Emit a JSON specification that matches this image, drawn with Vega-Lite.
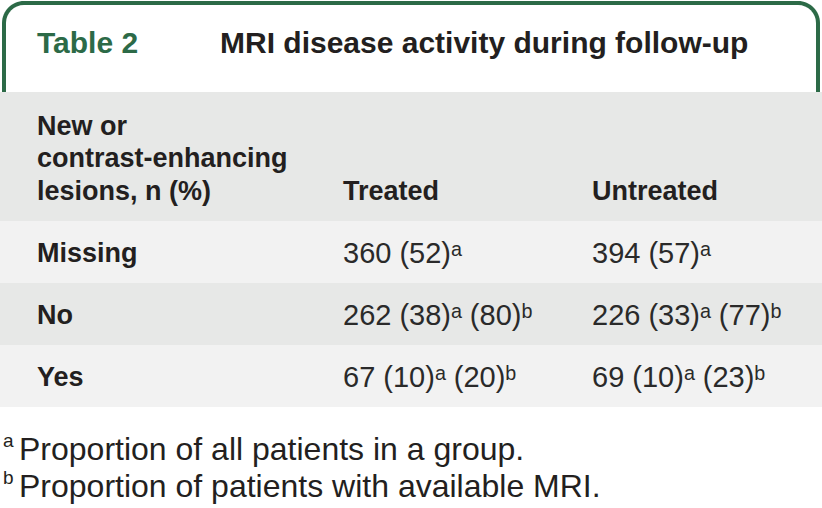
{
  "$schema": "https://vega.github.io/schema/vega-lite/v6.json",
  "padding": 0,
  "spacing": 0,
  "bounds": "flush",
  "background": "white",
  "config": {"view": {"stroke": null}, "text": {"font": "Liberation Sans"}, "concat": {"spacing": 0}},
  "resolve": {"scale": {"color": "independent", "x": "independent", "y": "independent"}},
  "vconcat": [
    {
      "width": 822,
      "height": 92,
      "data": {"values": [
        {"key": "num", "text": "Table 2"},
        {"key": "name", "text": "MRI disease activity during follow-up"}
      ]},
      "layer": [
        {
          "transform": [{"filter": "datum.key == 'num'"}],
          "mark": {"type": "rect", "fill": "#2c6a47", "cornerRadiusTopLeft": 22, "cornerRadiusTopRight": 22},
          "encoding": {
            "x": {"datum": "frame", "type": "nominal", "scale": {"type": "band", "paddingInner": 0, "paddingOuter": 0.00245}, "axis": null},
            "y": {"datum": "frame", "type": "nominal", "scale": {"type": "band", "paddingInner": 0, "paddingOuter": 0.0055, "align": 1}, "axis": null}
          }
        },
        {
          "transform": [{"filter": "datum.key == 'num'"}],
          "mark": {"type": "rect", "fill": "white", "cornerRadiusTopLeft": 18, "cornerRadiusTopRight": 18},
          "encoding": {
            "x": {"datum": "inner", "type": "nominal", "scale": {"type": "band", "paddingInner": 0, "paddingOuter": 0.0074}, "axis": null},
            "y": {"datum": "inner", "type": "nominal", "scale": {"type": "band", "paddingInner": 0, "paddingOuter": 0.0287, "align": 1}, "axis": null}
          }
        },
        {
          "mark": {"type": "text", "align": "left", "baseline": "alphabetic", "fontSize": 30, "fontWeight": "bold", "dy": 7},
          "encoding": {
            "x": {"field": "key", "type": "nominal", "scale": {"type": "point", "domain": ["num", "name"], "range": [37, 220], "padding": 0}, "axis": null},
            "y": {"datum": "title", "type": "nominal", "scale": {"type": "band", "paddingInner": 0, "paddingOuter": 0}, "axis": null},
            "text": {"field": "text"},
            "color": {"field": "key", "type": "nominal", "scale": {"domain": ["num", "name"], "range": ["#2c6a47", "#231f20"]}, "legend": null}
          }
        }
      ],
      "resolve": {"scale": {"x": "independent", "y": "independent"}}
    },
    {
      "width": 822,
      "height": 129,
      "view": {"fill": "#e7e8e7", "stroke": null},
      "data": {"values": [
        {"line": "1", "col": "label", "text": "New or"},
        {"line": "2", "col": "label", "text": "contrast-enhancing"},
        {"line": "3", "col": "label", "text": "lesions, n (%)"},
        {"line": "3", "col": "treated", "text": "Treated"},
        {"line": "3", "col": "untreated", "text": "Untreated"}
      ]},
      "layer": [
        {
          "transform": [{"filter": "datum.col == 'label'"}],
          "mark": {"type": "text", "align": "left", "baseline": "alphabetic", "fontSize": 27, "fontWeight": "bold", "color": "#231f20"},
          "encoding": {
            "x": {"field": "col", "type": "nominal", "scale": {"type": "point", "domain": ["label", "treated"], "range": [37, 343], "padding": 0}, "axis": null},
            "y": {"field": "line", "type": "ordinal", "scale": {"type": "point", "domain": ["1", "2", "3"], "padding": 1.15, "align": 0.6667}, "axis": null},
            "text": {"field": "text"}
          }
        },
        {
          "transform": [{"filter": "datum.col != 'label'"}],
          "mark": {"type": "text", "align": "left", "baseline": "alphabetic", "fontSize": 27, "fontWeight": "bold", "color": "#231f20"},
          "encoding": {
            "x": {"field": "col", "type": "nominal", "scale": {"type": "point", "domain": ["treated", "untreated"], "range": [343, 592], "padding": 0}, "axis": null},
            "y": {"field": "line", "type": "ordinal", "axis": null},
            "text": {"field": "text"}
          }
        }
      ],
      "resolve": {"scale": {"x": "independent"}}
    },
    {
      "width": 822,
      "height": 186,
      "view": {"fill": "#f2f2f2", "stroke": null},
      "data": {"values": [
        {"row": "Missing", "col": "label", "text": "Missing"},
        {"row": "Missing", "col": "treated", "text": "360 (52)ᵃ"},
        {"row": "Missing", "col": "untreated", "text": "394 (57)ᵃ"},
        {"row": "No", "col": "label", "text": "No"},
        {"row": "No", "col": "treated", "text": "262 (38)ᵃ (80)ᵇ"},
        {"row": "No", "col": "untreated", "text": "226 (33)ᵃ (77)ᵇ"},
        {"row": "Yes", "col": "label", "text": "Yes"},
        {"row": "Yes", "col": "treated", "text": "67 (10)ᵃ (20)ᵇ"},
        {"row": "Yes", "col": "untreated", "text": "69 (10)ᵃ (23)ᵇ"}
      ]},
      "layer": [
        {
          "transform": [{"filter": "datum.col == 'label'"}],
          "mark": {"type": "rect"},
          "encoding": {
            "x": {"datum": "frame", "type": "nominal", "scale": {"type": "band", "paddingInner": 0, "paddingOuter": 0}, "axis": null},
            "y": {"field": "row", "type": "nominal", "scale": {"type": "band", "domain": ["Missing", "No", "Yes"], "paddingInner": 0, "paddingOuter": 0}, "axis": null},
            "color": {"field": "row", "type": "nominal", "scale": {"domain": ["Missing", "No", "Yes"], "range": ["#f2f2f2", "#e7e8e7", "#f2f2f2"]}, "legend": null}
          }
        },
        {
          "transform": [{"filter": "datum.col == 'label'"}],
          "mark": {"type": "text", "align": "left", "baseline": "middle", "fontSize": 27, "fontWeight": "bold", "color": "#231f20", "dy": 2},
          "encoding": {
            "x": {"field": "col", "type": "nominal", "scale": {"type": "point", "domain": ["label", "treated"], "range": [37, 343], "padding": 0}, "axis": null},
            "y": {"field": "row", "type": "nominal", "axis": null},
            "text": {"field": "text"}
          }
        },
        {
          "transform": [{"filter": "datum.col != 'label'"}],
          "mark": {"type": "text", "align": "left", "baseline": "middle", "fontSize": 29, "color": "#2a2a2a", "dy": 2},
          "encoding": {
            "x": {"field": "col", "type": "nominal", "scale": {"type": "point", "domain": ["treated", "untreated"], "range": [343, 592], "padding": 0}, "axis": null},
            "y": {"field": "row", "type": "nominal", "axis": null},
            "text": {"field": "text"}
          }
        }
      ],
      "resolve": {"scale": {"x": "independent"}}
    },
    {
      "width": 822,
      "height": 101,
      "data": {"values": [
        {"line": "a", "part": "sup", "text": "a"},
        {"line": "a", "part": "main", "text": "Proportion of all patients in a group."},
        {"line": "b", "part": "sup", "text": "b"},
        {"line": "b", "part": "main", "text": "Proportion of patients with available MRI."}
      ]},
      "layer": [
        {
          "transform": [{"filter": "datum.part == 'main'"}],
          "mark": {"type": "text", "align": "left", "baseline": "alphabetic", "fontSize": 32, "color": "#231f20"},
          "encoding": {
            "x": {"field": "part", "type": "nominal", "scale": {"type": "point", "domain": ["sup", "main"], "range": [3, 19], "padding": 0}, "axis": null},
            "y": {"field": "line", "type": "nominal", "scale": {"type": "point", "domain": ["a", "b"], "padding": 0.865, "align": 0.828}, "axis": null},
            "text": {"field": "text"}
          }
        },
        {
          "transform": [{"filter": "datum.part == 'sup'"}],
          "mark": {"type": "text", "align": "left", "baseline": "alphabetic", "fontSize": 19, "color": "#231f20", "dy": -13},
          "encoding": {
            "x": {"field": "part", "type": "nominal", "axis": null},
            "y": {"field": "line", "type": "nominal", "axis": null},
            "text": {"field": "text"}
          }
        }
      ]
    }
  ]
}
